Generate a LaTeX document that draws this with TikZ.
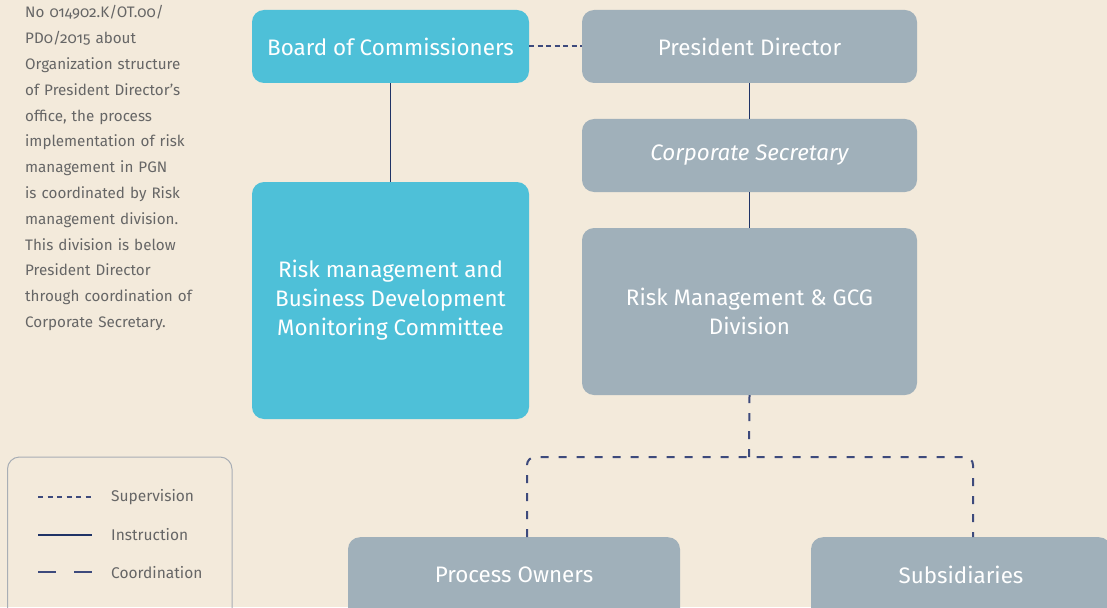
\documentclass[tikz,border=0pt]{standalone}
\usepackage{fontspec}
\setmainfont{Fira Sans}[Numbers=OldStyle]
\definecolor{bg}{HTML}{F3EADB}
\definecolor{cyanbox}{HTML}{4EC0D8}
\definecolor{graybox}{HTML}{A0B0BA}
\definecolor{navy}{HTML}{3D4A7C}
\definecolor{navydark}{HTML}{1F3366}
\definecolor{txtgray}{HTML}{666666}
\definecolor{legborder}{HTML}{A8AEB5}
\tikzset{
  box/.style={rectangle, rounded corners=12pt, inner sep=0pt, text=white, align=center,
    font=\fontsize{22.4}{29}\selectfont},
  cbox/.style={box, fill=cyanbox},
  gbox/.style={box, fill=graybox},
  supervision/.style={navy, line width=2pt, dash pattern=on 5pt off 3.5pt},
  instruction/.style={navydark, line width=1.3pt},
  coordination/.style={navy, line width=2pt, dash pattern=on 8pt off 10pt},
  legtext/.style={anchor=west, text=txtgray, font=\fontsize{15.5}{18}\selectfont, inner sep=0pt},
}
\begin{document}
\begin{tikzpicture}[x=1pt,y=-1pt]
\fill[bg] (0,0) rectangle (1107,607);
\useasboundingbox (0,0) rectangle (1107,607);
\begin{scope}
\clip (0,0) rectangle (1107,607);
% left text
\node[anchor=north west, inner sep=0pt, text width=200pt, align=left, text=txtgray,
  font=\fontsize{15.2}{25.8}\selectfont] (note) at (25,5.5)
  {No 014902.K/OT.00/\\PD0/2015 about\\Organization structure\\of President Director’s\\office, the process\\implementation of risk\\management in PGN\\is coordinated by Risk\\management division.\\This division is below\\President Director\\through coordination of\\Corporate Secretary.};
% boxes
\node[cbox, minimum width=277pt, minimum height=73pt] (boc) at (390.5,46.5) {Board of Commissioners};
\node[gbox, minimum width=335pt, minimum height=73pt] (pd) at (749.5,46.5) {President Director};
\node[gbox, minimum width=335pt, minimum height=73pt] (cs) at (749.5,155.5) {\itshape Corporate Secretary};
\node[gbox, minimum width=335pt, minimum height=167pt] (rmd) at (749.5,311.5) {Risk Management \& GCG\\Division};
\node[cbox, minimum width=277pt, minimum height=237pt] (rmc) at (390.5,300.5) {Risk management and\\Business Development\\Monitoring Committee};
\node[gbox, minimum width=332pt, minimum height=90pt, anchor=north] (po) at (514,537) {};
\node[gbox, minimum width=300pt, minimum height=90pt, anchor=north] (sub) at (961,537) {};
\node[text=white, font=\fontsize{22.4}{29}\selectfont] (potext) at (514,575) {Process Owners};
\node[text=white, font=\fontsize{22.4}{29}\selectfont] (subtext) at (961,575) {Subsidiaries};
% connectors
\draw[supervision] (boc.east) -- (pd.west);
\draw[instruction] (boc.south) -- (rmc.north);
\draw[instruction] (pd.south) -- (cs.north);
\draw[instruction] (cs.south) -- (rmd.north);
\coordinate (junc) at (749,457);
\draw[coordination] (rmd.south) -- (junc);
\draw[coordination, rounded corners=8pt] (527,537) -- (527,457) -- (973,457) -- (973,537);
% legend
\draw[legborder, line width=1pt, rounded corners=12pt] (7.5,457) rectangle (232,640);
\coordinate (l1a) at (38,497); \coordinate (l1b) at (92,497);
\coordinate (l2a) at (38,535); \coordinate (l2b) at (92,535);
\coordinate (l3a) at (38,572); \coordinate (l3b) at (92,572);
\draw[navy, line width=2pt, dash pattern=on 5pt off 4.5pt] (l1a) -- (l1b);
\draw[navydark, line width=2pt] (l2a) -- (l2b);
\draw[navy, line width=2pt, dash pattern=on 18pt off 18pt] (l3a) -- (l3b);
\node[legtext] (lt1) at (111,497) {Supervision};
\node[legtext] (lt2) at (111,535) {Instruction};
\node[legtext] (lt3) at (111,573) {Coordination};
\end{scope}
\end{tikzpicture}
\end{document}
